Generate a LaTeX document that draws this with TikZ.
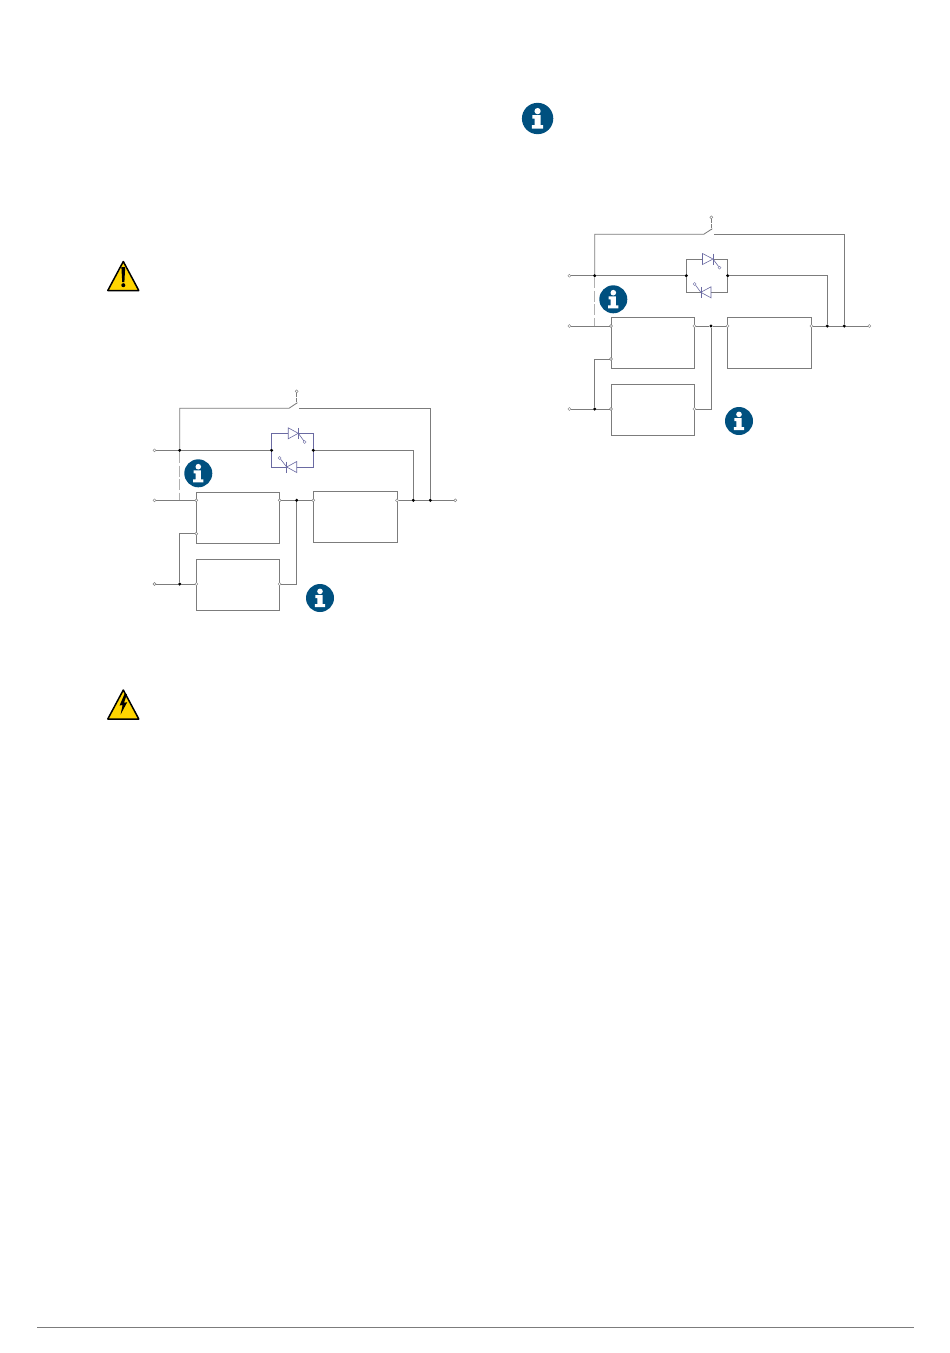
\documentclass[tikz,border=0pt]{standalone}
\definecolor{wire}{HTML}{7C7C7C}
\definecolor{thy}{HTML}{6A6AA2}
\definecolor{infoblue}{HTML}{00507F}
\definecolor{warnyellow}{HTML}{FFD500}
\tikzset{
  wireline/.style={draw=wire,line width=0.8pt},
  dashwire/.style={draw=wire!60,line width=1pt,dash pattern=on 11pt off 2.5pt},
  thyline/.style={draw=thy,line width=0.6pt},
  unit/.style={draw=wire,line width=0.8pt,fill=white,inner sep=0pt,outer sep=0pt},
  term/.style={circle,draw=wire,fill=white,line width=0.4pt,minimum size=3pt,inner sep=0pt,outer sep=0pt},
  thyterm/.style={circle,draw=thy,fill=white,line width=0.4pt,minimum size=3pt,inner sep=0pt,outer sep=0pt},
  junc/.style={circle,fill=black,minimum size=3.4pt,inner sep=0pt,outer sep=0pt},
  pt/.style={inner sep=0pt,outer sep=0pt,minimum size=0pt},
  info/.pic={
    \fill[infoblue] (0,0) circle (14);
    \fill[white] (0,-6.6) circle (2.8);
    \fill[white] (-4.6,-3) -- (2.6,-3) -- (2.6,6) -- (5,6) -- (5,9) -- (-5.2,9) -- (-5.2,6) -- (-2.6,6) -- (-2.6,0) -- (-4.6,0) -- cycle;
  },
  warntri/.pic={
    \filldraw[fill=warnyellow,draw=black,line width=1.5pt,line join=round] (0,-14) -- (15.5,15) -- (-15.5,15) -- cycle;
  }
}
\begin{document}
\begin{tikzpicture}[x=1pt,y=-1pt]
\useasboundingbox (0,0) rectangle (950,1353);
\fill[white] (0,0) rectangle (950,1353);

% page rule
\coordinate (ruleL) at (37,1327.5);
\coordinate (ruleR) at (914,1327.5);
\draw[draw=wire,line width=0.8pt] (ruleL) -- (ruleR);

% warning icons
\pic at (123.3,275.5) {warntri};
\fill[black] (121.4,267) -- (125.2,267) -- (124.4,282) -- (122.2,282) -- cycle;
\fill[black] (123.3,285.2) circle (2);
\pic at (123.3,704) {warntri};
\fill[black] (124.5,694) -- (119.6,705.5) -- (122.6,705) -- (120.6,714.5) -- (127.2,702.2) -- (124,702.8) -- (127,694) -- cycle;

% top info icon
\pic[scale=1.12] at (537.6,118.5) {info};

% ---------- left diagram ----------
\node[unit,minimum width=83.4pt,minimum height=51pt] (aR) at (238,517.8) {};
\node[unit,minimum width=83.4pt,minimum height=51pt] (aB) at (238,584.8) {};
\node[unit,minimum width=83.6pt,minimum height=51.4pt] (aI) at (355.2,517) {};

\node[term] (aIn1) at (154.5,450.3) {};
\node[term] (aIn2) at (154.5,500.3) {};
\node[term] (aIn3) at (154.5,584) {};
\node[term] (aOut) at (455.3,500.3) {};
\node[term] (aRin) at (196.3,500.3) {};
\node[term] (aRin2) at (196.3,533.7) {};
\node[term] (aRout) at (279.7,500.3) {};
\node[term] (aBin) at (196.3,584) {};
\node[term] (aBout) at (279.7,584) {};
\node[term] (aIin) at (313.3,500.3) {};
\node[term] (aIout) at (397,500.3) {};
\node[term] (aSw) at (296.7,391.3) {};
\node[junc] (aJ1) at (179.7,450.3) {};
\node[junc] (aJ3) at (179.7,584) {};
\node[junc] (aJm) at (296.7,500.3) {};
\node[junc] (aJs) at (413.3,500.3) {};
\node[junc] (aJb) at (430.3,500.3) {};
\node[junc] (aTL) at (271.6,450.3) {};
\node[junc] (aTR) at (313.3,450.3) {};
\coordinate (aD) at (179.7,500.3);
\coordinate (aB1) at (179.7,408.3);
\coordinate (aB2) at (289,408.3);
\coordinate (aB3) at (299.3,408.3);
\coordinate (aB4) at (430.3,408.3);
\coordinate (aBl) at (297.4,402.7);
\coordinate (aSb) at (296.7,403.4);

\draw[wireline] (aJ1) -- (aB1) -- (aB2) -- (aBl);
\draw[wireline] (aB3) -- (aB4) -- (aJb);
\draw[wireline,dash pattern=on 1.8pt off 0.7pt] (aSw) -- (aSb);
\draw[wireline] (aIn1) -- (aJ1) -- (aTL);
\draw[wireline] (aTR) -| (aJs);
\draw[dashwire] (aJ1) -- (aD);
\draw[wireline] (aIn2) -- (aRin);
\draw[wireline] (aRout) -- (aJm) -- (aIin);
\draw[wireline] (aIout) -- (aJs) -- (aJb) -- (aOut);
\draw[wireline] (aIn3) -- (aJ3) -- (aBin);
\draw[wireline] (aJ3) |- (aRin2);
\draw[wireline] (aBout) -| (aJm);
% thyristors
\node[pt] (aT1) at (288.2,433.3) {};
\node[pt] (aT1k) at (298.3,433.3) {};
\node[pt] (aT2) at (296.7,467) {};
\node[pt] (aT2k) at (286.7,467) {};
\node[thyterm] (aG1) at (304.7,442) {};
\node[thyterm] (aG2) at (279.7,458) {};
\draw[thyline] (aTL) |- (aT1);
\draw[thyline] (aT1k) -| (aTR);
\draw[thyline] (aTL) |- (aT2k);
\draw[thyline] (aT2) -| (aTR);
\draw[thyline] (288.2,427.8) -- (288.2,438.8) -- (298.3,433.3) -- cycle;
\draw[thyline] (298.3,427.8) -- (298.3,438.8);
\draw[thyline] (296.7,461.5) -- (296.7,472.5) -- (286.7,467) -- cycle;
\draw[thyline] (286.7,461.5) -- (286.7,472.5);
\draw[thyline] (aT1k) -- (aG1);
\draw[thyline] (aT2k) -- (aG2);
\pic at (198.3,473.3) {info};
\pic at (320,598) {info};

% ---------- right diagram ----------
\node[unit,minimum width=83.3pt,minimum height=51pt] (bR) at (652.7,342.8) {};
\node[unit,minimum width=83.3pt,minimum height=51pt] (bB) at (652.7,409.8) {};
\node[unit,minimum width=83.6pt,minimum height=50.7pt] (bI) at (769.5,342.7) {};

\node[term] (bIn1) at (569.4,275.7) {};
\node[term] (bIn2) at (569.4,326) {};
\node[term] (bIn3) at (569.4,409) {};
\node[term] (bOut) at (869.3,326) {};
\node[term] (bRin) at (611,326) {};
\node[term] (bRin2) at (611,359) {};
\node[term] (bRout) at (694.3,326) {};
\node[term] (bBin) at (611,409) {};
\node[term] (bBout) at (694.3,409) {};
\node[term] (bIin) at (727.7,326) {};
\node[term] (bIout) at (811.3,326) {};
\node[term] (bSw) at (711.3,217.3) {};
\node[junc] (bJ1) at (594.7,275.7) {};
\node[junc] (bJ3) at (594.7,409) {};
\node[junc] (bJm) at (711,326) {};
\node[junc] (bJs) at (827.3,326) {};
\node[junc] (bJb) at (844.3,326) {};
\node[junc] (bTL) at (686.3,275.7) {};
\node[junc] (bTR) at (727.7,275.7) {};
\coordinate (bD) at (594.7,326);
\coordinate (bB1) at (594.7,234.3);
\coordinate (bB2) at (703.7,234.3);
\coordinate (bB3) at (714.3,234.3);
\coordinate (bB4) at (844.3,234.3);
\coordinate (bBl) at (712.3,228.7);
\coordinate (bSb) at (711.3,229.4);

\draw[wireline] (bJ1) -- (bB1) -- (bB2) -- (bBl);
\draw[wireline] (bB3) -- (bB4) -- (bJb);
\draw[wireline,dash pattern=on 1.8pt off 0.7pt] (bSw) -- (bSb);
\draw[wireline] (bIn1) -- (bJ1) -- (bTL);
\draw[wireline] (bTR) -| (bJs);
\draw[dashwire] (bJ1) -- (bD);
\draw[wireline] (bIn2) -- (bRin);
\draw[wireline] (bRout) -- (bJm) -- (bIin);
\draw[wireline] (bIout) -- (bJs) -- (bJb) -- (bOut);
\draw[wireline] (bIn3) -- (bJ3) -- (bBin);
\draw[wireline] (bJ3) |- (bRin2);
\draw[wireline] (bBout) -| (bJm);
% thyristors
\node[pt] (bT1) at (702.5,259) {};
\node[pt] (bT1k) at (713,259) {};
\node[pt] (bT2) at (711,292.3) {};
\node[pt] (bT2k) at (700.8,292.3) {};
\node[thyterm] (bG1) at (719.5,267.7) {};
\node[thyterm] (bG2) at (694.7,284) {};
\draw[wireline] (bTL) |- (bT1);
\draw[wireline] (bT1k) -| (bTR);
\draw[wireline] (bTL) |- (bT2k);
\draw[wireline] (bT2) -| (bTR);
\draw[thyline] (702.5,253.5) -- (702.5,264.5) -- (713,259) -- cycle;
\draw[thyline] (713,253.5) -- (713,264.5);
\draw[thyline] (711,286.8) -- (711,297.8) -- (700.8,292.3) -- cycle;
\draw[thyline] (700.8,286.8) -- (700.8,297.8);
\draw[thyline] (bT1k) -- (bG1);
\draw[thyline] (bT2k) -- (bG2);
\pic at (613.3,299.3) {info};
\pic at (739,421) {info};
\end{tikzpicture}
\end{document}
